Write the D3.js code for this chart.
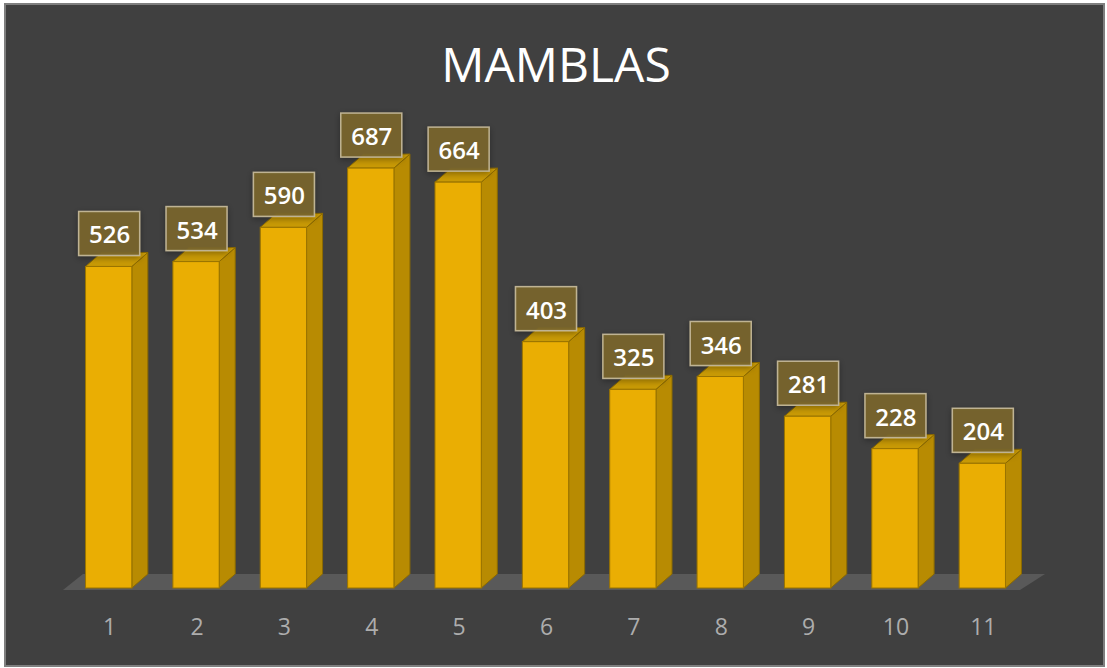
<!DOCTYPE html>
<html>
<head>
<meta charset="utf-8">
<script src="https://cdn.jsdelivr.net/npm/d3@7"></script>
<style>
  body { margin: 0; background: #ffffff; }
</style>
</head>
<body>
<script>
// chart data
var categories = ["1", "2", "3", "4", "5", "6", "7", "8", "9", "10", "11"];
var values = [526, 534, 590, 687, 664, 403, 325, 346, 281, 228, 204];
var title = "MAMBLAS";

var W = 1107, H = 668;
var dx = 16, dy = 14;   // 3d depth offset

var svg = d3.select("body").append("svg")
    .attr("width", W)
    .attr("height", H);

var defs = svg.append("defs");
var sh = defs.append("filter").attr("id", "shadow")
    .attr("x", "-30%").attr("y", "-30%").attr("width", "160%").attr("height", "160%");
sh.append("feDropShadow")
    .attr("dx", 0).attr("dy", 2)
    .attr("stdDeviation", 3)
    .attr("flood-color", "#000").attr("flood-opacity", 0.35);

svg.append("rect")
    .attr("x", 5).attr("y", 4)
    .attr("width", W - 8).attr("height", H - 6)
    .attr("fill", "#404040")
    .attr("stroke", "#7f7f7f")
    .attr("stroke-width", 2);

svg.append("text")
    .attr("x", 556).attr("y", 82)
    .attr("text-anchor", "middle")
    .style("font-family", "'Open Sans', sans-serif")
    .style("font-size", "48px")
    .attr("fill", "#ffffff")
    .text(title);

var x = d3.scaleBand()
    .domain(categories)
    .range([65, 1026])
    .paddingInner(0.47)
    .paddingOuter(0.235);

var y = d3.scaleLinear()
    .domain([0, 800])
    .range([588, 99]);

// floor
var x0 = x.range()[0], x1 = x.range()[1];
svg.append("path")
    .attr("d", "M" + (x0 - 2) + "," + (y(0) + 2) +
               "L" + (x0 + dx + 2) + "," + (y(0) - dy) +
               "L" + (x1 + dx + 3) + "," + (y(0) - dy) +
               "L" + (x1 - 6) + "," + (y(0) + 2) + "Z")
    .attr("fill", "#595959");

var bars = svg.append("g").selectAll("g")
    .data(values)
    .join("g");

// side face
bars.append("path")
    .attr("d", function(d, i) {
        var l = x(categories[i]) + x.bandwidth(), t = y(d), b = y(0);
        return "M" + l + "," + t + "L" + (l + dx) + "," + (t - dy) +
               "L" + (l + dx) + "," + (b - dy) + "L" + l + "," + b + "Z";
    })
    .attr("fill", "#b88b02")
    .attr("stroke", "#8c6a00")
    .attr("stroke-width", 1);

// top face
bars.append("path")
    .attr("d", function(d, i) {
        var l = x(categories[i]), r = l + x.bandwidth(), t = y(d);
        return "M" + l + "," + t + "L" + (l + dx) + "," + (t - dy) +
               "L" + (r + dx) + "," + (t - dy) + "L" + r + "," + t + "Z";
    })
    .attr("fill", "#c99a05")
    .attr("stroke", "#8c6a00")
    .attr("stroke-width", 1);

// front face
bars.append("rect")
    .attr("x", function(d, i) { return x(categories[i]); })
    .attr("y", function(d) { return y(d); })
    .attr("width", x.bandwidth())
    .attr("height", function(d) { return y(0) - y(d); })
    .attr("fill", "#eaae03")
    .attr("stroke", "#9a7400")
    .attr("stroke-width", 1);

// data labels
var lw = 61, lh = 44;
bars.append("rect")
    .attr("x", function(d, i) { return x(categories[i]) + x.bandwidth() / 2 - lw / 2 + 0.5; })
    .attr("y", function(d) { return y(d) - 11 - lh; })
    .attr("width", lw).attr("height", lh)
    .attr("fill", "#7a662c")
    .attr("fill-opacity", 0.92)
    .attr("stroke", "#bfb393")
    .attr("stroke-width", 1.5)
    .attr("filter", "url(#shadow)");

bars.append("text")
    .attr("x", function(d, i) { return x(categories[i]) + x.bandwidth() / 2 + 1; })
    .attr("y", function(d) { return y(d) - 11 - 12; })
    .attr("text-anchor", "middle")
    .style("font-family", "'Open Sans', sans-serif")
    .style("font-size", "24px")
    .style("font-weight", "600")
    .attr("fill", "#ffffff")
    .text(function(d) { return d; });

// category axis labels
svg.append("g").selectAll("text")
    .data(categories)
    .join("text")
    .attr("x", function(d) { return x(d) + x.bandwidth() / 2 + 1; })
    .attr("y", 635)
    .attr("text-anchor", "middle")
    .style("font-family", "'Open Sans', sans-serif")
    .style("font-size", "23px")
    .attr("fill", "#adadad")
    .text(function(d) { return d; });
</script>
</body>
</html>
